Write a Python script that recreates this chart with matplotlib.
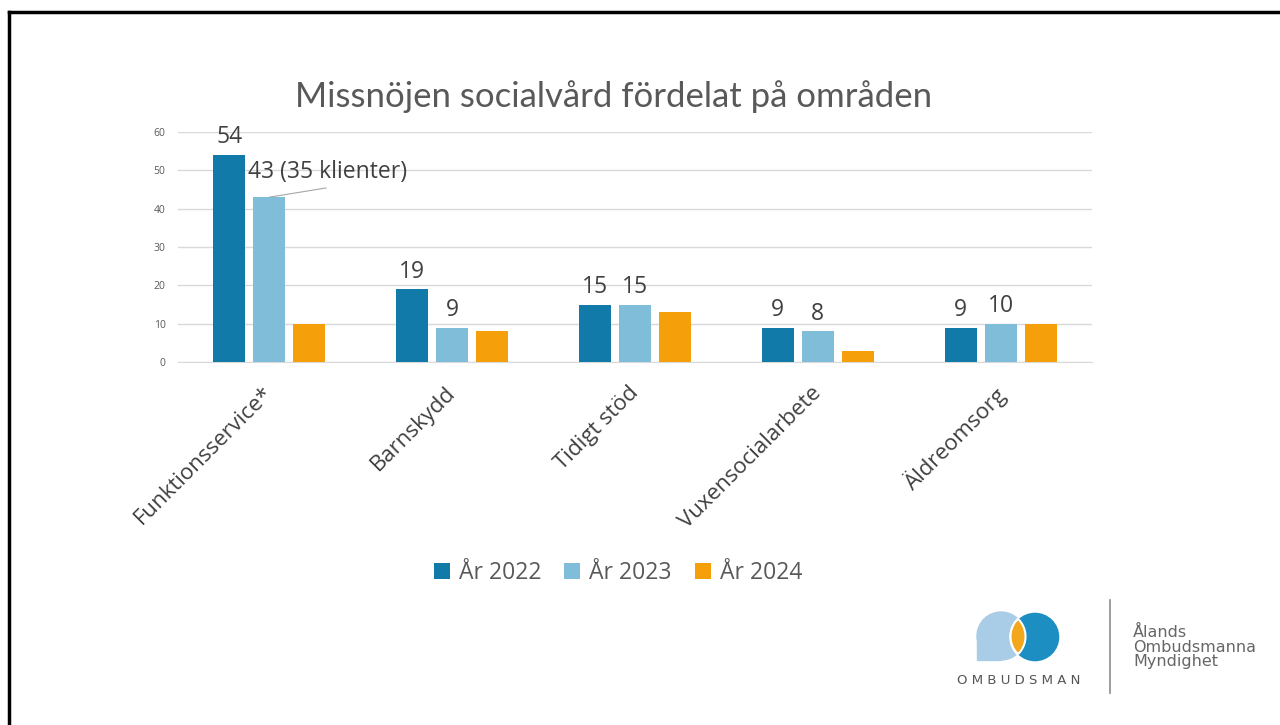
import numpy as np
import matplotlib.pyplot as plt
import matplotlib.transforms as mtransforms
from matplotlib.patches import Circle, Rectangle, PathPatch
from matplotlib.lines import Line2D
from matplotlib.path import Path

plt.rcParams['font.family'] = ['Open Sans', 'DejaVu Sans']

categories = ['Funktionsservice*', 'Barnskydd', 'Tidigt stöd', 'Vuxensocialarbete', 'Äldreomsorg']
years = ['År 2022', 'År 2023', 'År 2024']
v2022 = [54, 19, 15, 9, 9]
v2023 = [43, 9, 15, 8, 10]
v2024 = [10, 8, 13, 3, 10]
labels2022 = ['54', '19', '15', '9', '9']
labels2023 = ['43 (35 klienter)', '9', '15', '8', '10']
yticks = [0, 10, 20, 30, 40, 50, 60]

colors = ['#127aa9', '#7fbdd9', '#f59f0b']
W, H = 1280, 725

fig = plt.figure(figsize=(12.8, 7.25), dpi=100)
ax = fig.add_axes([178 / W, 1 - 362 / H, (1092 - 178) / W, (362 - 132) / H])

x = np.arange(len(categories))
step = 0.219
bw = 0.175
series = [v2022, v2023, v2024]
for i, vals in enumerate(series):
    ax.bar(x + (i - 1) * step, vals, width=bw, color=colors[i], label=years[i], zorder=3)

# data labels (only 2022 and 2023)
for j in range(len(categories)):
    ax.annotate(labels2022[j], (x[j] - step, v2022[j]), xytext=(0, 4), textcoords='offset points',
                ha='center', va='bottom', fontsize=16.5, color='#404040')
    if j == 0:
        continue
    ax.annotate(labels2023[j], (x[j], v2023[j]), xytext=(0, 4), textcoords='offset points',
                ha='center', va='bottom', fontsize=16.5, color='#404040')

# first 2023 label is moved aside with a leader line
ax.text(x[0] + 0.32, 49.6, labels2023[0], ha='center', va='center', fontsize=16.5, color='#404040')
ax.plot([x[0], x[0] + 0.31], [v2023[0], 45.4], color='#a6a6a6', lw=0.8, zorder=4)

ax.set_xlim(-0.5, len(categories) - 0.5)
ax.set_ylim(0, 60)
ax.set_yticks(yticks)
ax.tick_params(axis='y', length=0, labelsize=7.5, labelcolor='#595959', pad=9)
ax.tick_params(axis='x', length=0, pad=12)
ax.set_xticks(x)
ax.set_xticklabels(categories, rotation=45, ha='right', rotation_mode='anchor',
                   fontsize=16, color='#404040')
shift = mtransforms.ScaledTranslation(-0.07, -0.04, fig.dpi_scale_trans)
for lab in ax.get_xticklabels():
    lab.set_transform(lab.get_transform() + shift)
ax.grid(axis='y', color='#d9d9d9', lw=1, zorder=0)
for s in ['top', 'right', 'left']:
    ax.spines[s].set_visible(False)
ax.spines['bottom'].set_color('#d9d9d9')

fig.text(614 / W, 1 - 97 / H, 'Missnöjen socialvård fördelat på områden', ha='center', va='center',
         fontsize=25, color='#595959', family=['Lato', 'DejaVu Sans'])

fig.legend(loc='center', bbox_to_anchor=(618 / W, 1 - 573 / H), ncol=3, frameon=False,
           fontsize=16.5, handlelength=0.7, handleheight=0.7, handletextpad=0.4,
           columnspacing=1.0, labelcolor='#595959')

# slide border (top and left)
fig.add_artist(Line2D([9 / W, 1], [1 - 12 / H, 1 - 12 / H], color='black', lw=2.5))
fig.add_artist(Line2D([9 / W, 9 / W], [0, 1 - 12 / H], color='black', lw=2.5))

# logo
lax = fig.add_axes([0, 0, 1, 1], zorder=5)
lax.set_xlim(0, W)
lax.set_ylim(H, 0)
lax.axis('off')
lax.add_patch(Circle((1001, 636), 24, color='#a9cde6'))
lax.add_patch(Rectangle((977, 636), 24, 24, color='#a9cde6'))
lax.add_patch(Circle((1035, 637), 25, color='#1c8ec2', ec='white', lw=1))
# orange lens where the two circles overlap
t = np.linspace(-1, 1, 50)
hy = np.sqrt(24.5 ** 2 - 17.0 ** 2)
left = np.column_stack([1001 + np.sqrt(np.maximum(24.5 ** 2 - (t * hy) ** 2, 0)), 636.5 + t * hy])
right = np.column_stack([1035 - np.sqrt(np.maximum(24.5 ** 2 - (t * hy) ** 2, 0)), 636.5 - t * hy])
lens = np.vstack([left, right, left[:1]])
lax.add_patch(PathPatch(Path(lens), fc='#f2a71c', ec='white', lw=1.5))
lax.text(1019, 681, 'O M B U D S M A N', ha='center', va='center', fontsize=9.5, color='#555555',
         family=['DejaVu Sans'])
lax.plot([1110, 1110], [600, 693], color='#8c8c8c', lw=1.2)
lax.text(1133, 647, 'Ålands\nOmbudsmanna\nMyndighet', ha='left', va='center', fontsize=11.5,
         color='#666666', linespacing=0.95, family=['DejaVu Sans'])

fig.savefig('out.png', dpi=100, facecolor='white')
